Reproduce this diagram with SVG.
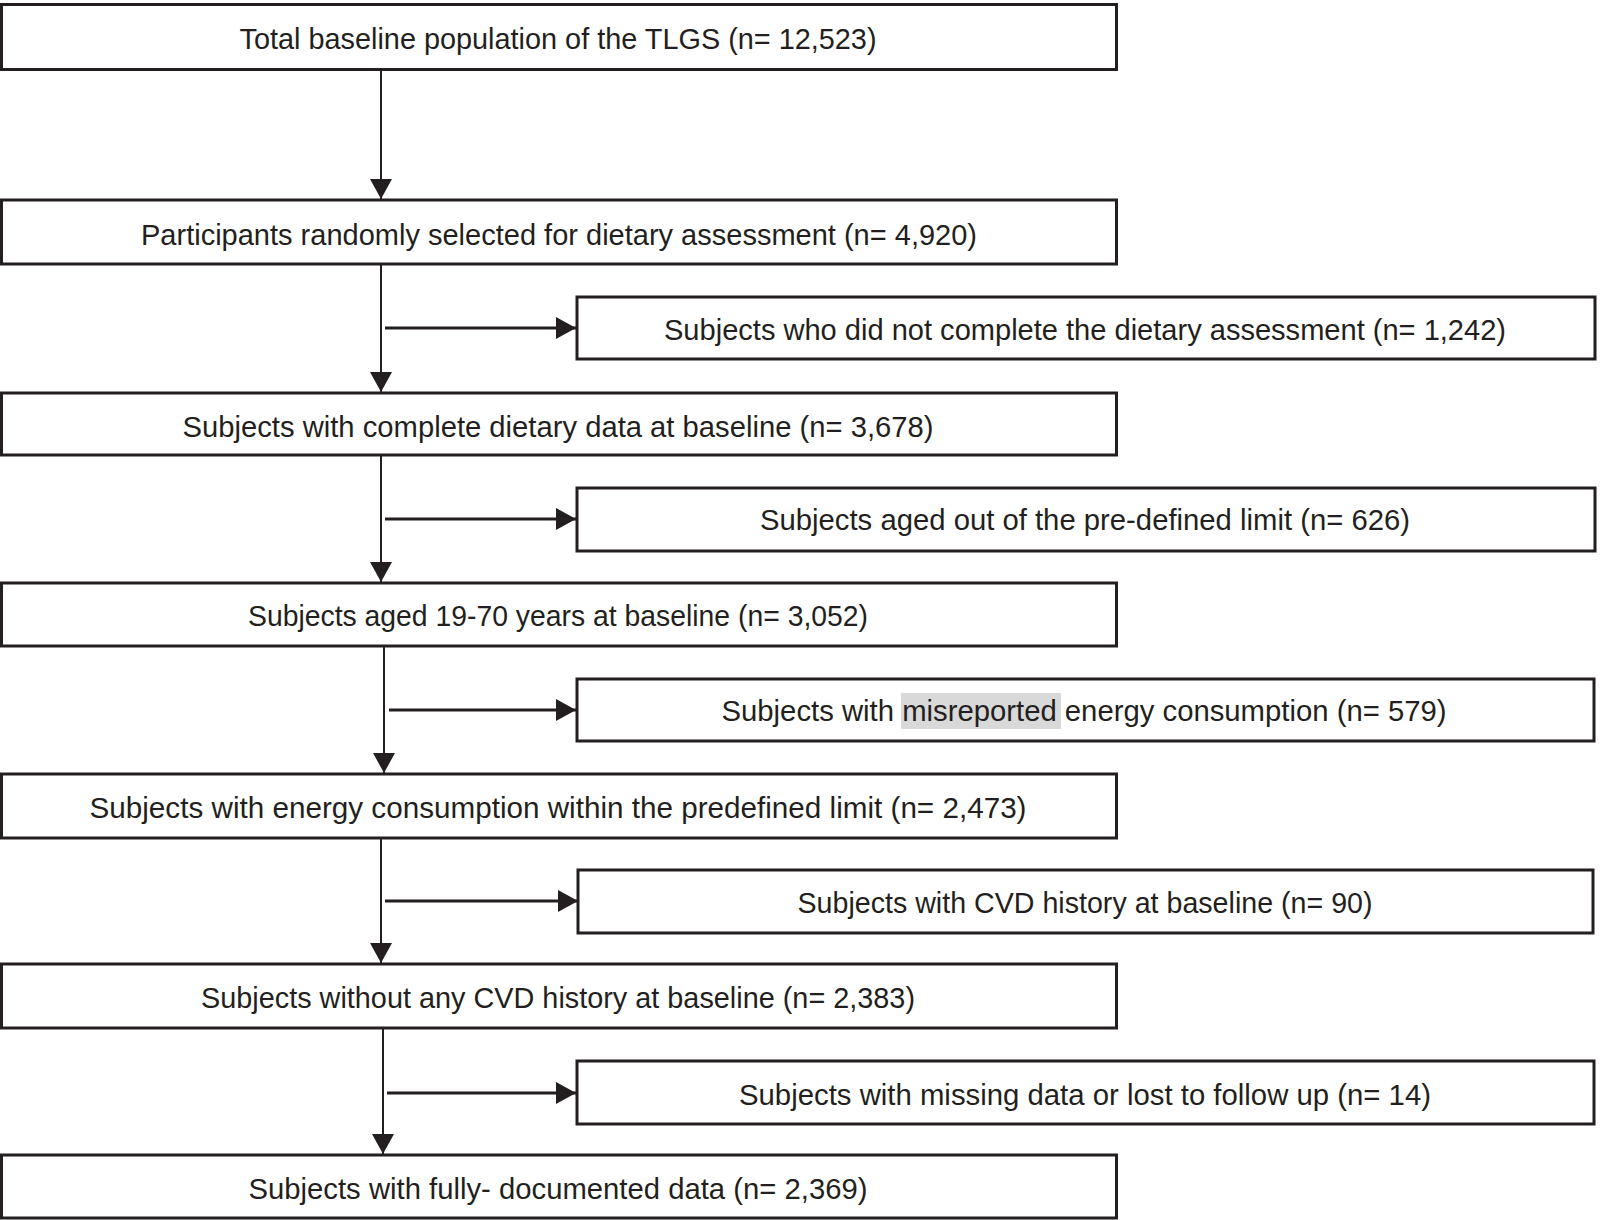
<svg xmlns="http://www.w3.org/2000/svg" width="1600" height="1220" viewBox="0 0 1600 1220">
<defs>
<marker id="ah" viewBox="0 0 20 22" refX="20" refY="11" markerWidth="20" markerHeight="22" markerUnits="userSpaceOnUse" orient="auto">
<path d="M0,0 L20,11 L0,22 Z" fill="#231f20"/>
</marker>
</defs>
<style>
.box{fill:#fff;stroke:#231f20;stroke-width:3}
.t{font-family:"Liberation Sans",Arial,sans-serif;font-size:29px;fill:#231f20;text-anchor:middle}
.v{stroke:#231f20;stroke-width:2;fill:none}
.h{stroke:#231f20;stroke-width:3;fill:none}
</style>
<rect width="1600" height="1220" fill="#fff"/>
<g id="connectors">
<line class="v" x1="381" y1="71" x2="381" y2="199" marker-end="url(#ah)"/>
<line class="v" x1="381" y1="265" x2="381" y2="392" marker-end="url(#ah)"/>
<line class="h" x1="385" y1="328" x2="576" y2="328" marker-end="url(#ah)"/>
<line class="v" x1="381" y1="456" x2="381" y2="582" marker-end="url(#ah)"/>
<line class="h" x1="385" y1="519" x2="576" y2="519" marker-end="url(#ah)"/>
<line class="v" x1="384" y1="647" x2="384" y2="773" marker-end="url(#ah)"/>
<line class="h" x1="389" y1="710" x2="576" y2="710" marker-end="url(#ah)"/>
<line class="v" x1="381" y1="839" x2="381" y2="963" marker-end="url(#ah)"/>
<line class="h" x1="385" y1="901" x2="578" y2="901" marker-end="url(#ah)"/>
<line class="v" x1="383" y1="1029" x2="383" y2="1154" marker-end="url(#ah)"/>
<line class="h" x1="387" y1="1093" x2="576" y2="1093" marker-end="url(#ah)"/>
</g>
<g id="n1"><rect class="box" x="1.5" y="4.5" width="1115" height="65"/><text class="t" x="558" y="49" textLength="637" lengthAdjust="spacingAndGlyphs">Total baseline population of the TLGS (n= 12,523)</text></g>
<g id="n2"><rect class="box" x="1.5" y="200" width="1115" height="64"/><text class="t" x="559" y="245" textLength="836" lengthAdjust="spacingAndGlyphs">Participants randomly selected for dietary assessment (n= 4,920)</text></g>
<g id="s1"><rect class="box" x="577" y="297" width="1018" height="62"/><text class="t" x="1085" y="340" textLength="842" lengthAdjust="spacingAndGlyphs">Subjects who did not complete the dietary assessment (n= 1,242)</text></g>
<g id="n3"><rect class="box" x="1.5" y="393" width="1115" height="62"/><text class="t" x="558" y="437" textLength="751" lengthAdjust="spacingAndGlyphs">Subjects with complete dietary data at baseline (n= 3,678)</text></g>
<g id="s2"><rect class="box" x="577" y="488" width="1018" height="63"/><text class="t" x="1085" y="530" textLength="650" lengthAdjust="spacingAndGlyphs">Subjects aged out of the pre-defined limit (n= 626)</text></g>
<g id="n4"><rect class="box" x="1.5" y="583" width="1115" height="63"/><text class="t" x="558" y="626" textLength="620" lengthAdjust="spacingAndGlyphs">Subjects aged 19-70 years at baseline (n= 3,052)</text></g>
<g id="s3"><rect class="box" x="577" y="679" width="1017" height="62"/><rect x="901" y="693" width="160" height="36" fill="#d9d9d9"/><text class="t" x="1084" y="721" textLength="725" lengthAdjust="spacingAndGlyphs">Subjects with misreported energy consumption (n= 579)</text></g>
<g id="n5"><rect class="box" x="1.5" y="774" width="1115" height="64"/><text class="t" x="558" y="818" textLength="937" lengthAdjust="spacingAndGlyphs">Subjects with energy consumption within the predefined limit (n= 2,473)</text></g>
<g id="s4"><rect class="box" x="578" y="870" width="1015" height="63"/><text class="t" x="1085" y="913" textLength="575" lengthAdjust="spacingAndGlyphs">Subjects with CVD history at baseline (n= 90)</text></g>
<g id="n6"><rect class="box" x="1.5" y="964" width="1115" height="64"/><text class="t" x="558" y="1008" textLength="714" lengthAdjust="spacingAndGlyphs">Subjects without any CVD history at baseline (n= 2,383)</text></g>
<g id="s5"><rect class="box" x="577" y="1061" width="1017" height="63"/><text class="t" x="1085" y="1105" textLength="692" lengthAdjust="spacingAndGlyphs">Subjects with missing data or lost to follow up (n= 14)</text></g>
<g id="n7"><rect class="box" x="1.5" y="1155" width="1115" height="63"/><text class="t" x="558" y="1199" textLength="619" lengthAdjust="spacingAndGlyphs">Subjects with fully- documented data (n= 2,369)</text></g>
</svg>
